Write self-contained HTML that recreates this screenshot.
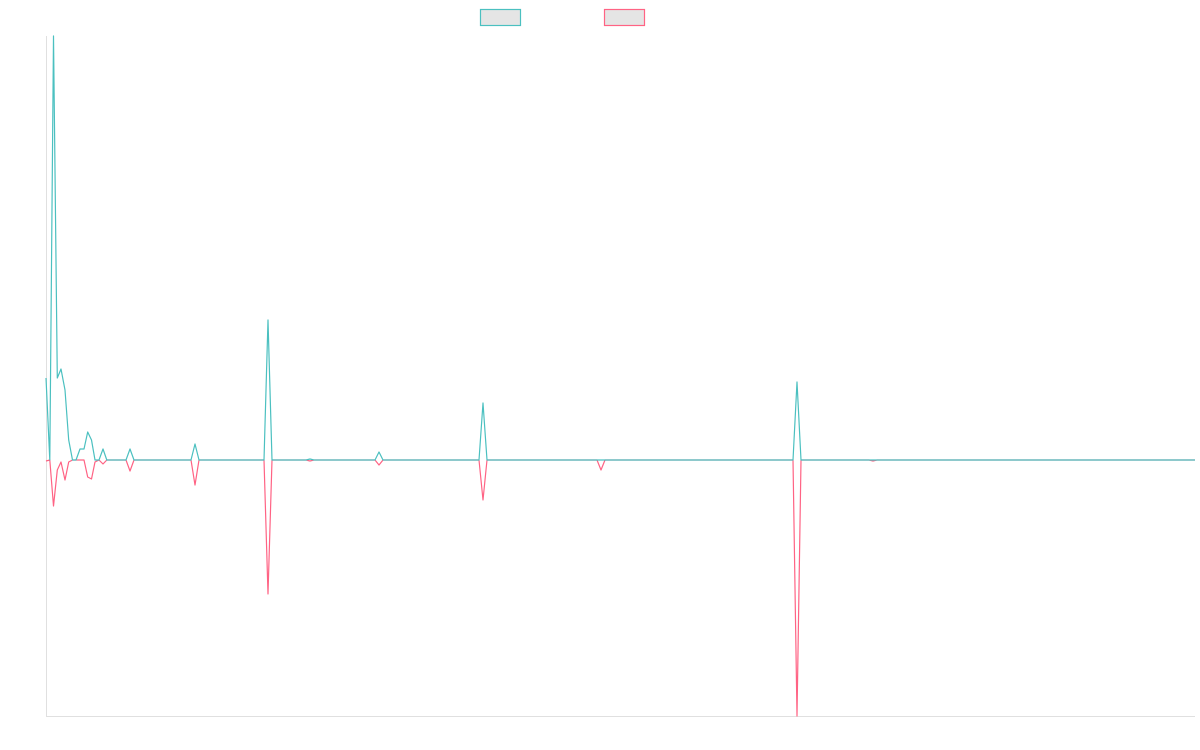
<!DOCTYPE html>
<html><head><meta charset="utf-8"><style>html,body{margin:0;padding:0;background:#fff;}svg{display:block}</style></head>
<body>
<svg width="1200" height="750" viewBox="0 0 1200 750" xmlns="http://www.w3.org/2000/svg">
<rect x="480.5" y="9.5" width="40" height="16" fill="#e5e5e5" stroke="#4bc0c0" stroke-width="1.2"/>
<rect x="604.5" y="9.5" width="40" height="16" fill="#e5e5e5" stroke="#ff6384" stroke-width="1.2"/>
<line x1="46.5" y1="36" x2="46.5" y2="716" stroke="#e0e0e0" stroke-width="1"/>
<line x1="46" y1="716.5" x2="1195" y2="716.5" stroke="#e0e0e0" stroke-width="1"/>
<polyline fill="none" stroke="#ff6384" stroke-width="1.2" stroke-linejoin="round" points="46,461 49.8,460 53.5,506 57.3,470 61,462 65,480 68.7,462 72.5,460 84,460 87.7,477 91.5,479 95,462 99,460 103,464 106.8,460 126,460 130,471 134,460 191,460 195,485 199,460 264,460 268,594 272,460 306,460 310,461 314,460 375,460 379,465 383,460 479,460 483,500 487,460 597,460 601,470 605,460 793,460 797,716 801,460 869,460 873,461 877,460 1195,460"/>
<polyline fill="none" stroke="#4bc0c0" stroke-width="1.2" stroke-linejoin="round" points="46,378 49.8,460 53.5,36 57.3,378 61,369 65,390 68.7,440 72.5,460 76,460 80,449 84,449 87.7,432 91.5,440 95,460 99,460 103,449 106.8,460 126,460 130,449 134,460 191,460 195,444 199,460 264,460 268,320 272,460 306,460 310,459 314,460 375,460 379,452 383,460 479,460 483,403 487,460 793,460 797,382 801,460 1195,460"/>
</svg>
</body></html>
